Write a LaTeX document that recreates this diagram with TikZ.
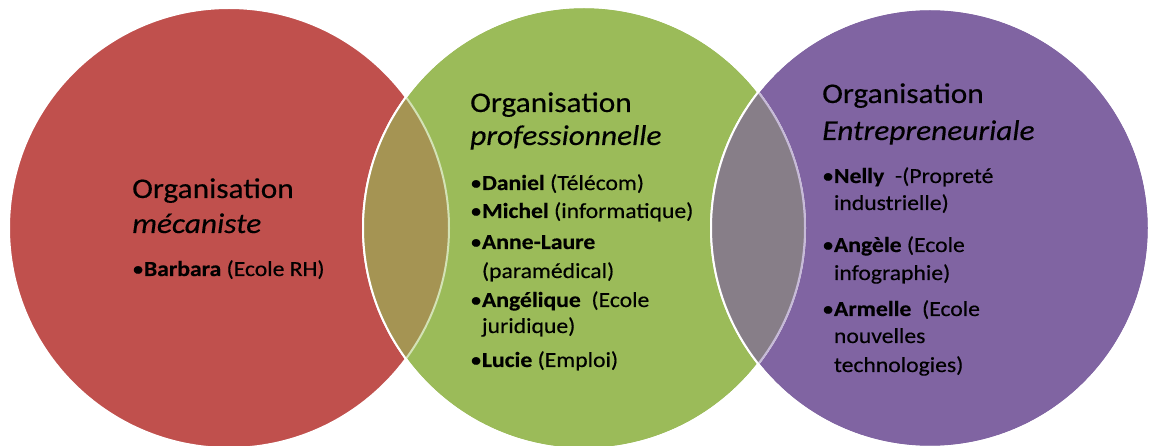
\documentclass[tikz,border=0pt]{standalone}
\usepackage{fontspec}
\setmainfont{Carlito}[FakeStretch=1.1, FakeBold=0.35]
\definecolor{cRed}{HTML}{C0504D}
\definecolor{cGreen}{HTML}{9BBB59}
\definecolor{cPurple}{HTML}{8064A2}
\definecolor{lensRG}{HTML}{A59453}
\definecolor{lensGP}{HTML}{877E88}
\definecolor{lightG}{HTML}{D3E2B5}
\definecolor{lightP}{HTML}{C6BAD7}
\tikzset{
  ttl/.style={anchor=base west, inner sep=0pt, text=black, font=\fontsize{28.5}{34}\selectfont},
  txt/.style={anchor=base west, inner sep=0pt, text=black, font=\fontsize{21.5}{26}\selectfont},
  edgeW/.style={draw=white, line width=2pt},
}
\begin{document}
\begin{tikzpicture}[x=1pt, y=-1pt]
\useasboundingbox (0,0) rectangle (1152,446);
\coordinate (cr) at (229,228);
\coordinate (cg) at (584,228);
\coordinate (cp) at (930,228);
% circles
\fill[cRed] (cr) circle[radius=220pt];
\draw[edgeW] (cr) circle[radius=220pt];
\fill[cGreen] (cg) circle[radius=221pt];
\draw[edgeW] (cg) circle[radius=221pt];
\fill[cPurple] (cp) circle[radius=219pt];
\draw[edgeW] (cp) circle[radius=219pt];
% lens red/green
\begin{scope}
  \clip (cr) circle[radius=220pt];
  \fill[lensRG] (cg) circle[radius=221pt];
\end{scope}
\begin{scope}
  \clip (cg) circle[radius=221pt];
  \draw[draw=lightG, line width=2pt] (cr) circle[radius=220pt];
\end{scope}
\draw[edgeW] (cg) circle[radius=221pt];
% lens green/purple
\begin{scope}
  \clip (cg) circle[radius=221pt];
  \fill[lensGP] (cp) circle[radius=219pt];
\end{scope}
\begin{scope}
  \clip (cp) circle[radius=219pt];
  \draw[draw=lightP, line width=2pt] (cg) circle[radius=221pt];
\end{scope}
\draw[edgeW] (cp) circle[radius=219pt];
% left texts
\node[ttl] (l1) at (132,198) {Organisation};
\node[ttl] (l2) at (132,233) {\itshape mécaniste};
\node[txt] (l3) at (132,276) {•\textbf{Barbara} (Ecole RH)};
% middle texts
\node[ttl] (m1) at (470,112) {Organisation};
\node[ttl] (m2) at (470,145) {\itshape professionnelle};
\node[txt] (m3) at (470,190) {•\textbf{Daniel} (Télécom)};
\node[txt] (m4) at (470,218) {•\textbf{Michel} (informatique)};
\node[txt] (m5) at (470,249) {•\textbf{Anne-Laure}};
\node[txt] (m6) at (470,278) {\phantom{•}(paramédical)};
\node[txt] (m7) at (470,307) {•\textbf{Angélique}\ \ (Ecole};
\node[txt] (m8) at (470,333) {\phantom{•}juridique)};
\node[txt] (m9) at (470,367) {•\textbf{Lucie} (Emploi)};
% right texts
\node[ttl] (r1) at (822,103) {Organisation};
\node[ttl] (r2) at (822,140) {\itshape Entrepreneuriale};
\node[txt] (r3) at (822,183) {•\textbf{Nelly}\ \ -(Propreté};
\node[txt] (r4) at (822,210) {\phantom{•}industrielle)};
\node[txt] (r5) at (822,252) {•\textbf{Angèle} (Ecole};
\node[txt] (r6) at (822,280) {\phantom{•}infographie)};
\node[txt] (r7) at (822,316) {•\textbf{Armelle}\ \ (Ecole};
\node[txt] (r8) at (822,343) {\phantom{•}nouvelles};
\node[txt] (r9) at (822,372) {\phantom{•}technologies)};
\end{tikzpicture}
\end{document}
